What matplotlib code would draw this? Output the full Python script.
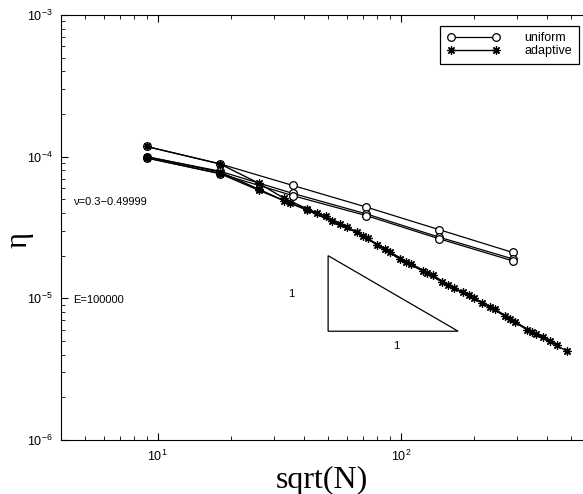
import matplotlib
matplotlib.use("Agg")
from matplotlib import pyplot as plt

# uniform refinement: sqrt(N) and error estimate eta, three values of nu
x_uni = [9, 18, 36, 72, 144, 288]
eta_uni_1 = [1.18e-4, 8.9e-5, 6.26e-5, 4.41e-5, 3.05e-5, 2.11e-5]
eta_uni_2 = [1.00e-4, 7.9e-5, 5.5e-5, 3.95e-5, 2.70e-5, 1.90e-5]
eta_uni_3 = [0.98e-4, 7.6e-5, 5.3e-5, 3.84e-5, 2.63e-5, 1.84e-5]

# adaptive refinement
x_ad_1 = [9, 18, 26, 33, 41, 49, 60, 73, 90, 110, 135, 165, 200, 244, 295, 360, 438]
eta_ad_1 = [1.18e-4, 8.9e-5, 6.5e-5, 5.1e-5, 4.3e-5, 3.8e-5, 3.2e-5, 2.65e-5, 2.12e-5,
            1.75e-5, 1.46e-5, 1.18e-5, 1.0e-5, 8.4e-6, 6.8e-6, 5.6e-6, 4.72e-6]
x_ad_2 = [9, 18, 26, 33, 41, 52, 66, 80, 99, 123, 147, 180, 215, 268, 330, 384, 482]
eta_ad_2 = [1.0e-4, 7.8e-5, 5.9e-5, 4.9e-5, 4.2e-5, 3.5e-5, 2.94e-5, 2.37e-5, 1.89e-5,
            1.56e-5, 1.31e-5, 1.10e-5, 9.3e-6, 7.5e-6, 6.0e-6, 5.3e-6, 4.23e-6]
x_ad_3 = [9, 18, 26, 35, 45, 56, 70, 86, 105, 128, 156, 190, 232, 280, 345, 410]
eta_ad_3 = [0.98e-4, 7.6e-5, 5.8e-5, 4.7e-5, 4.0e-5, 3.35e-5, 2.75e-5, 2.22e-5, 1.82e-5,
            1.52e-5, 1.25e-5, 1.05e-5, 8.7e-6, 7.2e-6, 5.8e-6, 5.0e-6]

# slope triangle corners
tri_x = [50.2, 50.2, 172]
tri_y = [2.0e-5, 5.86e-6, 5.86e-6]

plt.rcParams['font.family'] = ['Liberation Sans', 'DejaVu Sans']
plt.rcParams['mathtext.fontset'] = 'custom'
plt.rcParams['mathtext.rm'] = 'Liberation Sans'
plt.rcParams['mathtext.it'] = 'Liberation Sans'

fig = plt.figure(figsize=(5.83, 4.94), dpi=100)
ax = fig.add_axes([0.1046, 0.1093, 0.8954, 0.8603])

uni_style = dict(color="k", lw=0.9, marker="o", mfc="white", mec="k", ms=5.5, mew=0.9)
ad_style = dict(color="k", lw=1.0, marker=(8, 2, 0), mec="k", ms=6, mew=0.9)

ax.loglog(x_uni, eta_uni_1, label="uniform", **uni_style)
ax.loglog(x_uni, eta_uni_2, **uni_style)
ax.loglog(x_uni, eta_uni_3, **uni_style)
ax.loglog(x_ad_1, eta_ad_1, label="adaptive", **ad_style)
ax.loglog(x_ad_2, eta_ad_2, **ad_style)
ax.loglog(x_ad_3, eta_ad_3, **ad_style)

ax.fill(tri_x, tri_y, facecolor="none", edgecolor="k", lw=0.9)
ax.text(35.5, 1.07e-5, "1", fontsize=8, ha="center", va="center")
ax.text(96, 4.6e-6, "1", fontsize=8, ha="center", va="center")

ax.text(0.023, 0.561, "\u03bd=0.3\u22120.49999", transform=ax.transAxes, fontsize=8, va="center")
ax.text(0.023, 0.329, "E=100000", transform=ax.transAxes, fontsize=8, va="center")

ax.set_xlim(4, 561)
ax.set_ylim(1e-6, 1e-3)
ax.spines["right"].set_visible(False)
ax.tick_params(which="both", direction="in", top=True, right=False, labelsize=9)
ax.tick_params(which="major", length=5, pad=6)
ax.tick_params(which="minor", length=3)

ax.set_xlabel("sqrt(N)", fontsize=23, family="Liberation Serif", labelpad=2)
ax.set_ylabel("\u03b7", fontsize=22, family="Liberation Serif")
ax.yaxis.set_label_coords(-0.052, 0.47)

leg = ax.legend(loc="upper right", numpoints=2, handlelength=4.2, handletextpad=2.0,
                fontsize=9, fancybox=False, edgecolor="k", framealpha=1, borderpad=0.55,
                labelspacing=0.05, bbox_to_anchor=(1.004, 0.99))
leg.get_frame().set_linewidth(0.9)

fig.savefig("out.png", dpi=100)
